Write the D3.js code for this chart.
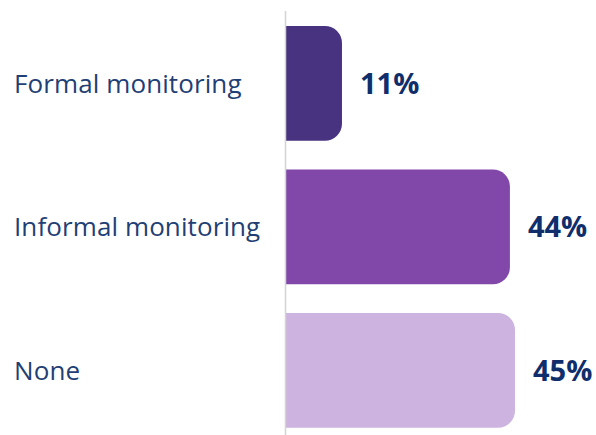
<!DOCTYPE html>
<html>
<head>
<meta charset="utf-8">
<script src="https://cdn.jsdelivr.net/npm/d3@7"></script>
<style>
  html, body { margin: 0; padding: 0; background: #ffffff; }
  svg { display: block; font-family: "Open Sans", "Noto Sans", sans-serif; }
</style>
</head>
<body>
<svg id="chart" width="596" height="435"></svg>
<script>
const categories = ["Formal monitoring", "Informal monitoring", "None"];
const values = [11, 44, 45];
const valueLabels = ["11%", "44%", "45%"];
const barColors = ["#47337f", "#8148aa", "#cdb3df"];

const svg = d3.select("#chart");
const x0 = 286;

const x = d3.scaleLinear().domain([0, 45]).range([x0, 515]);
const y = d3.scaleBand().domain(categories)
  .range([11.65, 442.15]).paddingInner(0.2).paddingOuter(0.1);

const r = 17;
function barPath(v, cat) {
  const left = x(0), right = x(v), top = y(cat), bot = top + y.bandwidth();
  const rr = Math.min(r, (right - left));
  return `M${left},${top}H${right - rr}A${rr},${rr} 0 0 1 ${right},${top + rr}` +
         `V${bot - rr}A${rr},${rr} 0 0 1 ${right - rr},${bot}H${left}Z`;
}

svg.selectAll("path.bar")
  .data(categories)
  .join("path")
  .attr("class", "bar")
  .attr("d", (c, i) => barPath(values[i], c))
  .attr("fill", (c, i) => barColors[i]);

// vertical baseline
svg.append("line")
  .attr("x1", 285.5).attr("x2", 285.5)
  .attr("y1", 11).attr("y2", 435)
  .attr("stroke", "#d4d4d4").attr("stroke-width", 1.5);

// category labels
svg.selectAll("text.cat")
  .data(categories)
  .join("text")
  .attr("class", "cat")
  .attr("x", 14)
  .attr("y", c => y(c) + y.bandwidth() / 2)
  .attr("dy", "0.35em")
  .attr("font-size", 26)
  .attr("letter-spacing", 0.1)
  .attr("fill", "#1f3f75")
  .text(c => c);

// value labels
svg.selectAll("text.val")
  .data(categories)
  .join("text")
  .attr("class", "val")
  .attr("x", (c, i) => x(values[i]) + 18)
  .attr("y", c => y(c) + y.bandwidth() / 2)
  .attr("dy", "0.35em")
  .attr("font-size", 29)
  .attr("font-weight", 700)
  .attr("fill", "#0f2e6b")
  .text((c, i) => valueLabels[i]);
</script>
</body>
</html>
